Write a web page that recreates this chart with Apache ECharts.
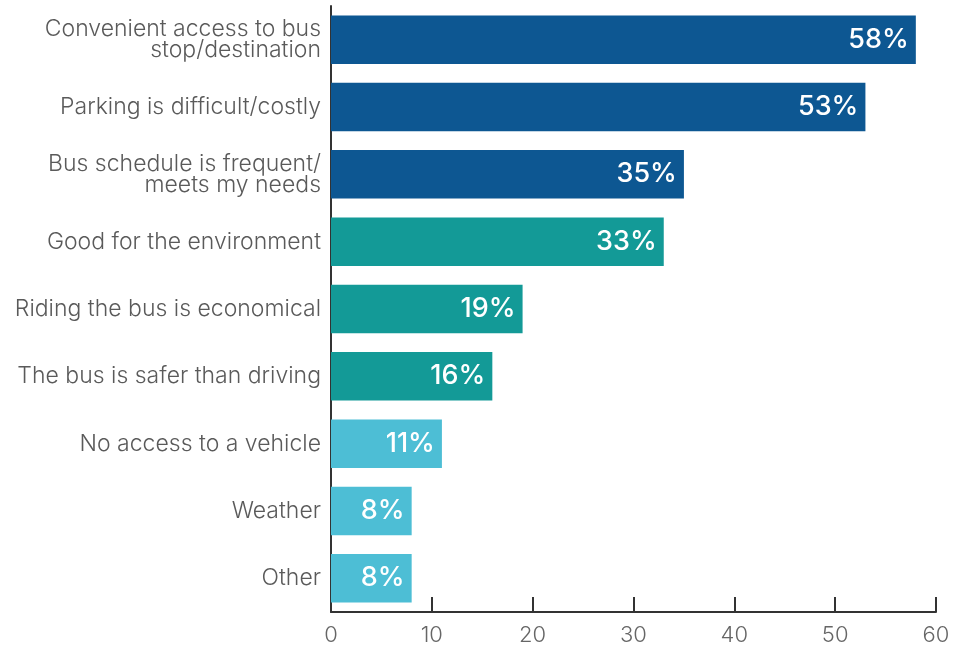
<!DOCTYPE html>
<html>
<head>
<meta charset="utf-8">
<script src="https://cdn.jsdelivr.net/npm/echarts@6/dist/echarts.min.js"></script>
<style>
  html, body { margin: 0; padding: 0; background: #fff; }
  #chart { width: 967px; height: 646px; }
</style>
</head>
<body>
<div id="chart"></div>
<script>
// Reasons for riding the bus, share of respondents (%)
const categories = [
  'Convenient access to bus\nstop/destination',
  'Parking is difficult/costly',
  'Bus schedule is frequent/\nmeets my needs',
  'Good for the environment',
  'Riding the bus is economical',
  'The bus is safer than driving',
  'No access to a vehicle',
  'Weather',
  'Other'
];
const values = [58, 53, 35, 33, 19, 16, 11, 8, 8];
// colour group for each bar: 0 = access/schedule, 1 = personal benefit, 2 = circumstance
const groups = [0, 0, 0, 1, 1, 1, 2, 2, 2];
const groupColors = ['#0d5792', '#139a97', '#4dbed5'];
const xTicks = { min: 0, max: 60, interval: 10 };

const chart = echarts.init(document.getElementById('chart'));
chart.setOption({
  animation: false,
  grid: { left: 331, right: 31, top: 6, bottom: 34, containLabel: false },
  xAxis: {
    type: 'value',
    min: xTicks.min,
    max: xTicks.max,
    interval: xTicks.interval,
    splitLine: { show: false },
    axisLine: { show: true, lineStyle: { color: '#333', width: 2 } },
    axisTick: { show: true, inside: true, length: 15, lineStyle: { color: '#333', width: 2 } },
    axisLabel: {
      color: '#666',
      fontFamily: 'Inter',
      fontWeight: 300,
      fontSize: 22,
      margin: 12
    }
  },
  yAxis: {
    type: 'category',
    inverse: true,
    data: categories,
    axisLine: { show: true, lineStyle: { color: '#333', width: 2 } },
    axisTick: { show: false },
    axisLabel: {
      color: '#5a5a5a',
      fontFamily: 'Inter',
      fontWeight: 300,
      fontSize: 23,
      lineHeight: 21,
      margin: 10,
      align: 'right',
      padding: [8, 0, 0, 0]
    }
  },
  series: [{
    type: 'bar',
    barWidth: '72%',
    data: values.map((v, i) => ({
      value: v,
      itemStyle: { color: groupColors[groups[i]] }
    })),
    label: {
      show: true,
      position: 'insideRight',
      distance: 7,
      formatter: '{c}%',
      color: '#fff',
      fontFamily: 'Inter',
      fontWeight: 500,
      fontSize: 27,
      padding: [4, 0, 0, 0]
    }
  }]
});
</script>
</body>
</html>
